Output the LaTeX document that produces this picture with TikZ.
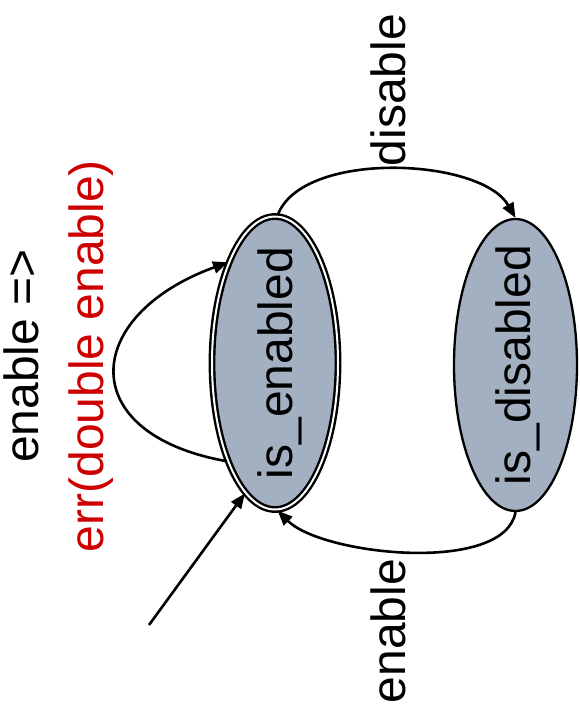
\documentclass[tikz,border=0pt]{standalone}
\usepackage{fontspec}
\setmainfont{Liberation Sans}
\usetikzlibrary{shapes.geometric,arrows.meta}
\definecolor{statefill}{RGB}{163,176,194}
\definecolor{errred}{RGB}{204,0,0}
% rotated text that takes no room in its node, shifted right by #1/2
\newcommand{\vtext}[2]{\smash{\makebox[0pt]{\hspace*{#1}\raisebox{-.5\height}{\rotatebox{90}{#2}}}}}
\begin{document}
\begin{tikzpicture}[x=1pt,y=-1pt,
  every node/.style={font=\fontsize{48}{65}\selectfont},
  statebox/.style={ellipse, draw, fill=statefill, inner sep=0pt},
  edge/.style={line width=2.6pt, -{Triangle[length=15pt,width=12pt]}},
  lbl/.style={inner sep=0pt}]
\useasboundingbox (0,0) rectangle (580,720);
\node[statebox, double, line width=2.4pt, double distance=2pt,
      minimum width=126pt, minimum height=293pt] (en) at (275,363) {\vtext{10pt}{is\_enabled}};
\node[statebox, line width=2.3pt,
      minimum width=123pt, minimum height=292pt] (dis) at (515.5,365) {\vtext{5pt}{is\_disabled}};
\node[lbl] (ldis) at (388,90) {\rotatebox{90}{disable}};
\node[lbl] (len) at (388,631) {\rotatebox{90}{enable}};
\node[lbl, rotate=90, align=center] (lloop) at (59,356) {enable =>\\\textcolor{errred}{err(double enable)}};
\coordinate (init) at (149,625);
\draw[edge] (en.89) to[out=70, in=120, looseness=0.75] (dis.90);
\draw[edge] (dis.270) to[out=-100, in=-45, looseness=0.68] (en.271);
\draw[edge] (en.244) to[out=170, in=200, looseness=2] (en.115);
\draw[edge] (init) -- (en.257);
\end{tikzpicture}
\end{document}
